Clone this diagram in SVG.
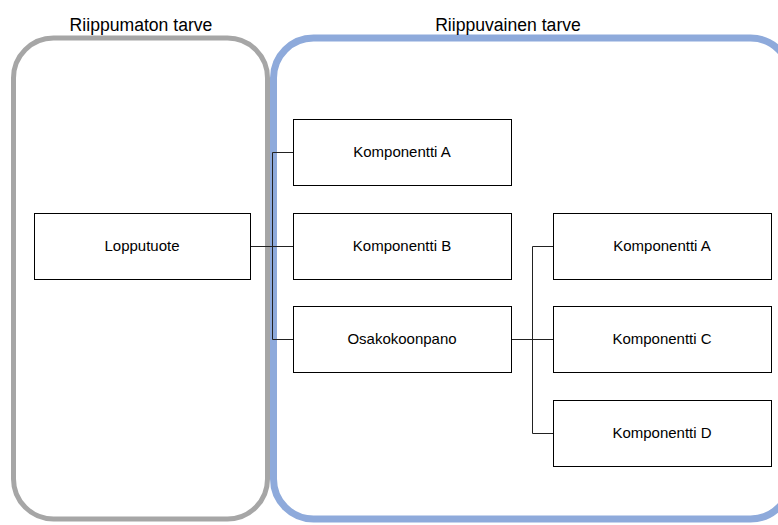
<svg xmlns="http://www.w3.org/2000/svg" width="778" height="525" viewBox="0 0 778 525">
  <style>
    .title { font-family: "Liberation Sans", Arial, sans-serif; font-size: 17.6px; fill: #000; text-anchor: middle; }
    .box rect { fill: #fff; stroke: #000; stroke-width: 1; }
    .box text { font-family: "Liberation Sans", Arial, sans-serif; font-size: 15px; fill: #000; text-anchor: middle; }
    .conn { fill: none; stroke: #222; stroke-width: 1; }
  </style>
  <rect width="778" height="525" fill="#fff"/>

  <!-- Demand regions -->
  <g id="independent">
    <rect x="13.5" y="38" width="254" height="481" rx="40" fill="none" stroke="#a6a6a6" stroke-width="5"/>
    <text class="title" x="141" y="31">Riippumaton tarve</text>
  </g>
  <g id="dependent">
    <rect x="273.5" y="38" width="517" height="481" rx="40" fill="none" stroke="#8eaadb" stroke-width="7"/>
    <text class="title" x="508" y="31">Riippuvainen tarve</text>
  </g>

  <!-- Connectors -->
  <g id="connectors">
    <path class="conn" d="M250.5 246.5 H272.5 M272.5 152.5 V339.5 M272.5 152.5 H293 M272.5 246.5 H293 M272.5 339.5 H293"/>
    <path class="conn" d="M511.5 339.5 H532.5 M532.5 246.5 V433.5 M532.5 246.5 H553 M532.5 339.5 H553 M532.5 433.5 H553"/>
  </g>

  <!-- Nodes -->
  <g id="lopputuote" class="box">
    <rect x="34.5" y="213.5" width="216" height="66"/>
    <text x="142" y="251">Lopputuote</text>
  </g>
  <g id="komponentti-a1" class="box">
    <rect x="293.5" y="119.5" width="218" height="66"/>
    <text x="402" y="157">Komponentti A</text>
  </g>
  <g id="komponentti-b" class="box">
    <rect x="293.5" y="213.5" width="218" height="66"/>
    <text x="402" y="251">Komponentti B</text>
  </g>
  <g id="osakokoonpano" class="box">
    <rect x="293.5" y="306.5" width="218" height="66"/>
    <text x="402" y="344">Osakokoonpano</text>
  </g>
  <g id="komponentti-a2" class="box">
    <rect x="553.5" y="213.5" width="218" height="66"/>
    <text x="662" y="251">Komponentti A</text>
  </g>
  <g id="komponentti-c" class="box">
    <rect x="553.5" y="306.5" width="218" height="66"/>
    <text x="662" y="344">Komponentti C</text>
  </g>
  <g id="komponentti-d" class="box">
    <rect x="553.5" y="400.5" width="218" height="66"/>
    <text x="662" y="438">Komponentti D</text>
  </g>
</svg>
